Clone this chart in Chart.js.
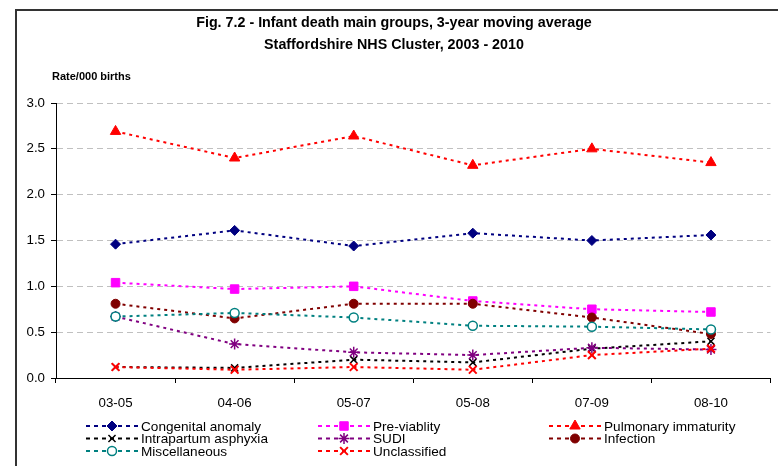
<!DOCTYPE html>
<html>
<head>
<meta charset="utf-8">
<script src="https://cdn.jsdelivr.net/npm/chart.js@4/dist/chart.umd.min.js"></script>
<style>
  html, body { margin: 0; padding: 0; background: #fff; }
  #wrap { width: 778px; height: 466px; }
</style>
</head>
<body>
<div id="wrap"><canvas id="chart" width="778" height="466"></canvas></div>
<script>
// Categorias y valores (tasa por 1000 nacimientos)
const categories = ['03-05', '04-06', '05-07', '05-08', '07-09', '08-10']
const congenital = [1.46, 1.61, 1.44, 1.58, 1.50, 1.56]
const preViability = [1.04, 0.97, 1.00, 0.84, 0.75, 0.72]
const pulmonary = [2.69, 2.40, 2.64, 2.32, 2.50, 2.35]
const intrapartum = [0.12, 0.11, 0.20, 0.17, 0.32, 0.40]
const sudi = [0.67, 0.37, 0.28, 0.25, 0.33, 0.31]
const infection = [0.81, 0.65, 0.81, 0.81, 0.66, 0.48]
const miscellaneous = [0.67, 0.71, 0.66, 0.57, 0.56, 0.53]
const unclassified = [0.12, 0.09, 0.12, 0.09, 0.25, 0.32]
const yTicks = [0, 0.5, 1.0, 1.5, 2.0, 2.5, 3.0]

const FONT = '"Liberation Sans", Arial, sans-serif'

function serie(label, data, color, style, radius, fill, bw) {
	return {
		label: label,
		data: data,
		borderColor: color,
		borderWidth: 2,
		borderDash: [3, 4],
		pointStyle: style,
		pointRadius: radius,
		pointBackgroundColor: fill || color,
		pointBorderColor: color,
		pointBorderWidth: bw || 1,
		fill: false,
		tension: 0,
	}
}

const series = [
	serie('Congenital anomaly', congenital, '#000080', 'rectRot', 5),
	serie('Pre-viablity', preViability, '#FF00FF', 'rect', 6),
	serie('Pulmonary immaturity', pulmonary, '#FF0000', 'triangle', 6),
	serie('Intrapartum asphyxia', intrapartum, '#000000', 'crossRot', 5, null, 1.5),
	serie('SUDI', sudi, '#800080', 'star', 5.5, null, 1.5),
	serie('Infection', infection, '#800000', 'circle', 4.5),
	serie('Miscellaneous', miscellaneous, '#008080', 'circle', 4.5, '#FFFFFF', 1.5),
	serie('Unclassified', unclassified, '#FF0000', 'crossRot', 5.5, null, 2),
]
// Excel dibuja la ultima serie encima
series.forEach((s, i) => (s.order = series.length - i))

// Marco, titulos y leyenda
const decor = {
	id: 'decor',
	afterDraw(chart) {
		const ctx = chart.ctx
		ctx.save()
		// marco exterior
		ctx.strokeStyle = '#333'
		ctx.lineWidth = 2
		ctx.beginPath()
		ctx.moveTo(16, 480)
		ctx.lineTo(16, 10)
		ctx.lineTo(790, 10)
		ctx.stroke()

		ctx.fillStyle = '#000'
		ctx.textAlign = 'center'
		ctx.textBaseline = 'middle'
		ctx.font = 'bold 14.3px ' + FONT
		ctx.fillText('Fig. 7.2 - Infant death main groups, 3-year moving average', 394, 23)
		ctx.fillText('Staffordshire NHS Cluster, 2003 - 2010', 394, 45)
		ctx.textAlign = 'left'
		ctx.font = 'bold 11px ' + FONT
		ctx.fillText('Rate/000 births', 52, 77)

		// leyenda: 3 columnas
		const cols = [86, 318, 549]
		const rows = [426, 438.5, 451]
		ctx.font = '13.6px ' + FONT
		series.forEach((s, i) => {
			const x = cols[i % 3]
			const y = rows[Math.floor(i / 3)]
			ctx.strokeStyle = s.borderColor
			ctx.lineWidth = 2
			ctx.setLineDash([4, 4])
			ctx.beginPath()
			ctx.moveTo(x, y)
			ctx.lineTo(x + 52, y)
			ctx.stroke()
			ctx.setLineDash([])
			ctx.fillStyle = s.pointBackgroundColor
			ctx.strokeStyle = s.pointBorderColor
			ctx.lineWidth = s.pointBorderWidth
			Chart.helpers.drawPoint(ctx, {
				pointStyle: s.pointStyle,
				radius: s.pointRadius,
				rotation: 0,
				borderWidth: s.pointBorderWidth,
			}, x + 26, y)
			ctx.fillStyle = '#000'
			ctx.fillText(s.label, x + 55, y + 1)
		})
		ctx.restore()
	},
}

new Chart(document.getElementById('chart'), {
	type: 'line',
	data: { labels: categories, datasets: series },
	plugins: [decor],
	options: {
		responsive: false,
		animation: false,
		events: [],
		layout: { padding: { left: 0, right: 2, top: 103, bottom: 0 } },
		plugins: { legend: { display: false }, title: { display: false }, tooltip: { enabled: false } },
		scales: {
			x: {
				offset: true,
				grid: { offset: true, drawOnChartArea: false, color: '#000', tickLength: 5 },
				border: { color: '#000', width: 1 },
				ticks: { color: '#000', padding: 12, font: { family: FONT, size: 13.3 } },
				afterFit: (scale) => { scale.height = 88 },
			},
			y: {
				min: 0,
				max: 3,
				afterBuildTicks: (scale) => { scale.ticks = yTicks.map((v) => ({ value: v })) },
				grid: { color: '#C0C0C0', tickColor: '#000', tickLength: 5, tickBorderDash: [] },
				border: { color: '#000', width: 1, dash: [6, 4] },
				ticks: { color: '#000', padding: 6, font: { family: FONT, size: 13.3 }, callback: (v) => Number(v).toFixed(1) },
				afterFit: (scale) => { scale.width = 56 },
			},
		},
	},
})
</script>
</body>
</html>
